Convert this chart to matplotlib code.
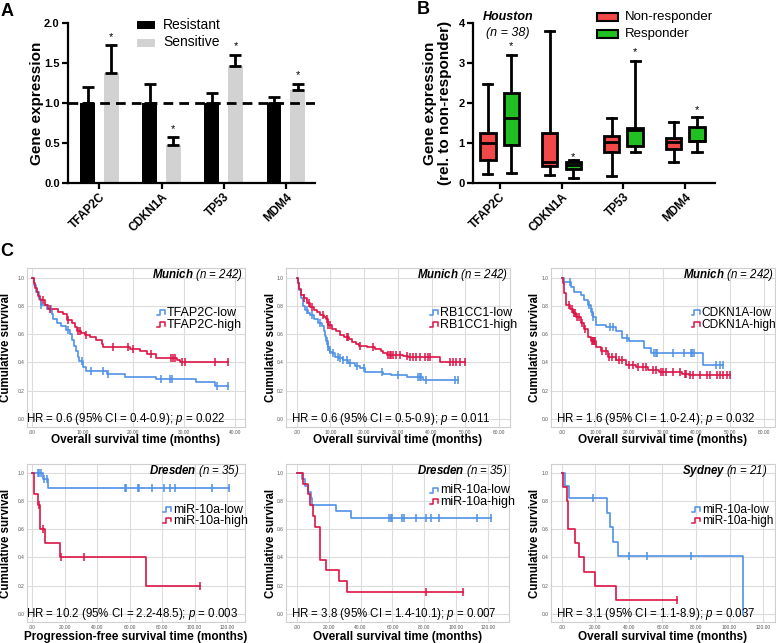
import numpy as np
import matplotlib
matplotlib.use('Agg')
import matplotlib.pyplot as plt
from matplotlib.patches import Rectangle

plt.rcParams['font.family'] = ['Liberation Sans', 'DejaVu Sans']
plt.rcParams['mathtext.fontset'] = 'custom'
plt.rcParams['mathtext.rm'] = 'Liberation Sans'
plt.rcParams['mathtext.it'] = 'Liberation Sans:italic'
plt.rcParams['mathtext.bf'] = 'Liberation Sans:italic:bold'

# ---------------- data ----------------
genes = ['TFAP2C', 'CDKN1A', 'TP53', 'MDM4']

# Panel A (mean, upper error)
a_res = [1.0, 1.0, 1.0, 1.0]
a_res_err = [0.20, 0.24, 0.13, 0.07]
a_sen = [1.38, 0.48, 1.46, 1.16]
a_sen_err = [0.34, 0.09, 0.14, 0.08]

# Panel B box stats: [whislo, q1, median, q3, whishi]
b_nonresp = [[0.22, 0.57, 1.00, 1.25, 2.48],
             [0.20, 0.43, 0.52, 1.25, 3.80],
             [0.18, 0.77, 1.02, 1.18, 1.62],
             [0.52, 0.84, 1.03, 1.13, 1.53]]
b_resp = [[0.25, 0.95, 1.62, 2.25, 3.20],
          [0.13, 0.35, 0.45, 0.53, 0.57],
          [0.77, 0.93, 1.32, 1.38, 3.05],
          [0.77, 1.04, 1.04, 1.39, 1.64]]
b_star = [3.49, 0.72, 3.34, 1.91]

# Panel C Kaplan-Meier curves: event times, survival after event, censor times
c1_low_t = [0.3, 0.8, 1.3, 1.8, 3.0, 3.9, 4.2, 5.0, 5.8, 6.6, 7.4, 7.8, 8.2, 8.6, 9.0, 9.3, 10.0, 10.7, 14.7, 18.3, 24.5, 32.4, 36.0]
c1_low_s = [0.95, 0.90, 0.85, 0.81, 0.78, 0.74, 0.71, 0.68, 0.655, 0.63, 0.60, 0.56, 0.52, 0.48, 0.44, 0.41, 0.37, 0.343, 0.32, 0.30, 0.28, 0.26, 0.235]
c1_low_c = [1.8, 3.7, 7.1, 9.8, 11.7, 14.0, 15.0, 25.5, 27.2, 27.6, 36.5, 38.6]
c1_high_t = [0.3, 0.6, 0.9, 1.2, 1.5, 2.5, 3.2, 5.1, 6.1, 6.8, 7.8, 8.4, 8.9, 9.7, 10.4, 11.4, 12.7, 13.7, 14.0, 19.3, 21.3, 22.6, 24.5, 28.5, 29.1]
c1_high_s = [0.96, 0.93, 0.90, 0.87, 0.84, 0.81, 0.78, 0.76, 0.74, 0.70, 0.68, 0.65, 0.625, 0.61, 0.595, 0.58, 0.56, 0.53, 0.51, 0.495, 0.478, 0.46, 0.43, 0.415, 0.405]
c1_high_c = [2.2, 3.5, 7.1, 9.1, 9.4, 10.7, 16.0, 19.0, 20.0, 23.5, 27.5, 27.8, 28.2, 29.5, 30.1, 36.0, 38.6]

c2_low_t = [0.3, 0.7, 1.2, 1.7, 2.5, 3.2, 4.0, 5.0, 6.4, 7.4, 8.0, 8.4, 8.8, 9.2, 9.6, 10.0, 10.4, 11.4, 12.5, 13.8, 15.3, 17.3, 18.8, 20.2, 23.2, 25.7, 28.1, 32.6, 37.5]
c2_low_s = [0.96, 0.91, 0.86, 0.80, 0.77, 0.75, 0.735, 0.71, 0.68, 0.655, 0.62, 0.585, 0.55, 0.51, 0.49, 0.475, 0.465, 0.44, 0.43, 0.42, 0.395, 0.376, 0.36, 0.336, 0.33, 0.32, 0.308, 0.296, 0.278]
c2_low_c = [3.0, 4.4, 6.9, 8.9, 9.4, 9.9, 10.9, 12.3, 12.8, 13.8, 15.0, 15.8, 17.8, 20.0, 25.2, 30.0, 36.0, 36.5, 37.0, 38.5, 47.0, 48.0]
c2_high_t = [0.3, 0.8, 1.3, 2.0, 3.0, 4.0, 5.0, 6.0, 7.0, 8.0, 8.6, 9.4, 10.4, 11.5, 12.8, 14.0, 15.5, 16.3, 17.5, 18.5, 20.7, 23.2, 25.0, 25.7, 26.7, 31.6, 33.0, 42.4]
c2_high_s = [0.96, 0.92, 0.88, 0.855, 0.82, 0.795, 0.77, 0.755, 0.735, 0.72, 0.705, 0.665, 0.64, 0.62, 0.595, 0.58, 0.565, 0.545, 0.53, 0.52, 0.51, 0.495, 0.48, 0.465, 0.455, 0.447, 0.44, 0.40]
c2_high_c = [2.0, 3.5, 4.4, 7.9, 8.9, 9.4, 9.9, 14.8, 15.3, 18.8, 22.7, 27.1, 27.6, 28.1, 28.6, 29.6, 30.6, 32.6, 33.6, 34.6, 35.5, 36.5, 38.0, 39.0, 39.5, 45.4, 46.4, 47.4, 48.4, 49.9]

c3_low_t = [0.8, 2.8, 3.75, 5.7, 6.7, 7.7, 8.7, 9.4, 10.2, 13.1, 16.1, 18.0, 20.0, 24.5, 26.5, 41.8]
c3_low_s = [0.97, 0.935, 0.90, 0.88, 0.84, 0.81, 0.76, 0.72, 0.665, 0.654, 0.62, 0.57, 0.55, 0.50, 0.465, 0.38]
c3_low_c = [2.3, 8.0, 9.0, 9.4, 14.4, 15.1, 19.5, 27.4, 27.9, 28.4, 32.9, 36.3, 38.3, 38.8, 39.3, 45.7, 46.9, 47.9]
c3_high_t = [0.3, 0.8, 1.3, 2.3, 3.3, 4.2, 5.7, 6.7, 7.7, 8.7, 10.2, 11.6, 13.6, 16.1, 19.0, 22.0, 25.5, 29.0, 32.9, 35.8, 37.8]
c3_high_s = [0.96, 0.89, 0.81, 0.78, 0.75, 0.72, 0.68, 0.64, 0.58, 0.55, 0.51, 0.478, 0.44, 0.415, 0.384, 0.37, 0.35, 0.336, 0.33, 0.32, 0.313]
c3_high_c = [2.0, 3.0, 3.5, 4.0, 4.5, 5.0, 6.0, 7.0, 9.0, 9.3, 9.6, 10.0, 12.0, 13.0, 14.0, 15.0, 16.0, 17.0, 18.0, 20.0, 21.0, 22.5, 24.0, 25.0, 27.0, 28.0, 29.5, 30.0, 31.0, 33.0, 35.0, 36.5, 37.0, 38.0, 39.0, 41.0, 43.0, 44.0, 46.0, 47.0, 48.0, 49.0, 50.0]

d1_low_t = [6.8, 9.9]
d1_low_s = [0.953, 0.89]
d1_low_c = [3.5, 4.5, 5.5, 7.5, 9.0, 57, 58, 65, 66, 74, 81, 85, 88, 111, 121]
d1_high_t = [1.2, 1.5, 3.7, 4.7, 7.8, 17.0, 70.0]
d1_high_s = [0.923, 0.846, 0.769, 0.60, 0.50, 0.40, 0.20]
d1_high_c = [4.0, 7.0, 18.0, 32.0, 103.5]

d2_low_t = [3.1, 5.2, 7.3, 8.8, 9.4, 24.7, 33.9]
d2_low_s = [0.955, 0.909, 0.864, 0.818, 0.773, 0.727, 0.682]
d2_low_c = [58, 59, 60, 66, 67, 75, 81, 84, 89, 113, 122]
d2_high_t = [4.2, 7.3, 8.4, 10.5, 11.5, 14.7, 18.4, 26.6, 31.8]
d2_high_s = [0.923, 0.846, 0.769, 0.692, 0.615, 0.385, 0.308, 0.231, 0.154]
d2_high_c = [81, 104]

s_low_t = [2.0, 4.6, 26.9, 28.5, 30.5, 33.4, 108.0]
s_low_s = [0.909, 0.818, 0.716, 0.614, 0.511, 0.409, 0.0]
s_low_c = [18.5, 40, 51, 77]
s_high_t = [0.6, 3.0, 3.6, 7.6, 10.5, 13.5, 20.0, 32.4]
s_high_s = [0.9, 0.8, 0.6, 0.5, 0.4, 0.3, 0.2, 0.1]
s_high_c = [68.5]

km_low = [(c1_low_t, c1_low_s, c1_low_c), (c2_low_t, c2_low_s, c2_low_c), (c3_low_t, c3_low_s, c3_low_c),
          (d1_low_t, d1_low_s, d1_low_c), (d2_low_t, d2_low_s, d2_low_c), (s_low_t, s_low_s, s_low_c)]
km_high = [(c1_high_t, c1_high_s, c1_high_c), (c2_high_t, c2_high_s, c2_high_c), (c3_high_t, c3_high_s, c3_high_c),
           (d1_high_t, d1_high_s, d1_high_c), (d2_high_t, d2_high_s, d2_high_c), (s_high_t, s_high_s, s_high_c)]

c_city = ['Munich', 'Munich', 'Munich', 'Dresden', 'Dresden', 'Sydney']
c_n = ['242', '242', '242', '35', '35', '21']
c_marker = ['TFAP2C', 'RB1CC1', 'CDKN1A', 'miR-10a', 'miR-10a', 'miR-10a']
c_hr = ['HR = 0.6 (95% CI = 0.4-0.9)', 'HR = 0.6 (95% CI = 0.5-0.9)', 'HR = 1.6 (95% CI = 1.0-2.4)',
        'HR = 10.2 (95% CI = 2.2-48.5)', 'HR = 3.8 (95% CI = 1.4-10.1)', 'HR = 3.1 (95% CI = 1.1-8.9)']
c_p = ['0.022', '0.011', '0.032', '0.003', '0.007', '0.037']
c_xlabel = ['Overall survival time (months)'] * 3 + ['Progression-free survival time (months)',
            'Overall survival time (months)', 'Overall survival time (months)']
c_xmax_tick = [40, 60, 60, 120, 120, 120]
c_xstep = [10, 10, 10, 20, 20, 20]

# ---------------- layout helpers ----------------
W, H = 776, 643
fig = plt.figure(figsize=(W / 100, H / 100), dpi=100)


def add_ax(l, t, r, b):
    return fig.add_axes([l / W, 1 - b / H, (r - l) / W, (b - t) / H])


def ftext(x, y, s, **kw):
    return fig.text(x / W, 1 - y / H, s, **kw)


BLUE = '#4f91e6'
RED = '#dc1446'

# ---------------- Panel A ----------------
axA = add_ax(68, 23, 315, 183)
xa = np.arange(len(genes))
off, bw = 0.19, 0.24
ekw = dict(ecolor='black', elinewidth=2, capsize=4, capthick=2)
axA.bar(xa - off, a_res, bw, color='black', yerr=[np.zeros(4), a_res_err], error_kw=ekw, zorder=2)
axA.bar(xa + off, a_sen, bw, color='#d2d2d2', yerr=[np.zeros(4), a_sen_err], error_kw=ekw, zorder=2)
axA.axhline(1.0, color='black', lw=2, ls=(0, (3.5, 2.2)), zorder=4)
for xi, v, e in zip(xa + off, a_sen, a_sen_err):
    axA.text(xi, v + e + 0.07, '*', ha='center', va='baseline', fontsize=8)
axA.set_xlim(-0.506, 3.47)
axA.set_ylim(0, 2.0)
axA.set_yticks([0, 0.5, 1.0, 1.5, 2.0])
axA.set_yticklabels(['0.0', '0.5', '1.0', '1.5', '2.0'], fontweight='bold', fontsize=8)
axA.set_xticks(xa)
axA.set_xticklabels(genes, rotation=45, ha='right', rotation_mode='anchor', fontweight='bold', fontsize=8.5)
for sp in ['top', 'right']:
    axA.spines[sp].set_visible(False)
for sp in ['left', 'bottom']:
    axA.spines[sp].set_linewidth(1.6)
axA.tick_params(width=1.6, length=4, pad=2)
ftext(36.5, 103, 'Gene expression', rotation=90, ha='center', va='center', fontsize=11, fontweight='bold')
# legend A
for yy, col, lab in [(25, 'black', 'Resistant'), (42.5, '#d2d2d2', 'Sensitive')]:
    fig.patches.append(Rectangle((137 / W, 1 - (yy + 4) / H), 18 / W, 8 / H, transform=fig.transFigure,
                                 facecolor=col, edgecolor='none'))
    ftext(163, yy, lab, ha='left', va='center', fontsize=10)

# ---------------- Panel B ----------------
axB = add_ax(473, 23, 715, 183)
stats, pos, cols = [], [], []
for i in range(4):
    for arr, o, col in [(b_nonresp, -0.19, '#f24848'), (b_resp, 0.19, '#22bf22')]:
        lo, q1, me, q3, hi = arr[i]
        stats.append(dict(whislo=lo, q1=q1, med=me, q3=q3, whishi=hi, fliers=[]))
        pos.append(i + o)
        cols.append(col)
bp = axB.bxp(stats, positions=pos, widths=0.25, patch_artist=True, showfliers=False,
             boxprops=dict(linewidth=2, edgecolor='black'), whiskerprops=dict(linewidth=2),
             capprops=dict(linewidth=2), medianprops=dict(color='black', linewidth=2), capwidths=0.15)
for b, c in zip(bp['boxes'], cols):
    b.set_facecolor(c)
for i, sy in enumerate(b_star):
    axB.text(i + 0.19, sy - 0.15, '*', ha='center', va='baseline', fontsize=8)
axB.set_xlim(-0.43, 3.48)
axB.set_ylim(0, 4)
axB.set_yticks([0, 1, 2, 3, 4])
axB.set_yticklabels(['0', '1', '2', '3', '4'], fontweight='bold', fontsize=8)
axB.set_xticks(np.arange(4))
axB.set_xticklabels(genes, rotation=45, ha='right', rotation_mode='anchor', fontweight='bold', fontsize=8.5)
for sp in ['top', 'right']:
    axB.spines[sp].set_visible(False)
for sp in ['left', 'bottom']:
    axB.spines[sp].set_linewidth(1.6)
axB.tick_params(width=1.6, length=4, pad=2)
ftext(437.5, 103, 'Gene expression\n(rel. to non-responder)', rotation=90, ha='center', va='center',
      fontsize=11, fontweight='bold', multialignment='center', linespacing=1.15)
ftext(508, 17, 'Houston', ha='center', va='center', fontsize=9, fontweight='bold', style='italic')
ftext(508, 33, '(n = 38)', ha='center', va='center', fontsize=9, style='italic')
for yy, col, lab in [(17, '#f24848', 'Non-responder'), (34, '#22bf22', 'Responder')]:
    fig.patches.append(Rectangle((597 / W, 1 - (yy + 4) / H), 21 / W, 8 / H, transform=fig.transFigure,
                                 facecolor=col, edgecolor='black', linewidth=1.5))
    ftext(625, yy, lab, ha='left', va='center', fontsize=9.5)

# ---------------- Panel labels ----------------
ftext(7, 11, 'A', ha='center', va='center', fontsize=13, fontweight='bold')
ftext(423, 9, 'B', ha='center', va='center', fontsize=13, fontweight='bold')
ftext(7, 252, 'C', ha='center', va='center', fontsize=13, fontweight='bold')

# ---------------- Panel C ----------------
c_boxes = [(27, 268, 245, 427), (286, 268, 510, 427), (551, 268, 775, 427),
           (27, 464, 245, 622), (286, 464, 509, 622), (551, 464, 775, 622)]
c_xlim = [(-1.0, 42.0), (-3.2, 63.3), (-3.2, 63.3), (-3.1, 131.0), (-6.7, 133.0), (-6.4, 127.0)]
c_ylim = [(-0.057, 1.069)] * 3 + [(-0.057, 1.062)] * 3
leg_x = [0.641, 0.6875, 0.672, 0.67, 0.69, 0.676]
leg_y = [(0.717, 0.642), (0.717, 0.642), (0.717, 0.642), (0.709, 0.641), (0.835, 0.761), (0.709, 0.641)]
leg_fs = [9, 9, 8.6, 9, 9, 8.6]
title_inset = [2, 2, 1, 6, 2, 8]
hr_inset = [-1, 5, 5, -1, 5, 5]
ylab_x = [6, 271, 535, 6, 271, 535]


def km(ax, t, s, c, color):
    xs = np.concatenate([[0.0], t])
    ys = np.concatenate([[1.0], s])
    end = max(xs[-1], max(c) if len(c) else 0)
    xe = np.append(xs, end)
    ye = np.append(ys, ys[-1])
    ax.step(xe, ye, where='post', color=color, lw=1.2, zorder=3)
    idx = np.searchsorted(xs, c, side='right') - 1
    ax.plot(c, ys[idx], ls='none', marker='|', ms=6, mew=1.1, color=color, zorder=4)


for k in range(6):
    l, t, r, b = c_boxes[k]
    ax = add_ax(l, t, r, b)
    wpx, hpx = r - l, b - t
    km(ax, *km_low[k], BLUE)
    km(ax, *km_high[k], RED)
    ax.set_xlim(*c_xlim[k])
    ax.set_ylim(*c_ylim[k])
    xt = np.arange(0, c_xmax_tick[k] + 1, c_xstep[k])
    ax.set_xticks(xt)
    ax.set_xticklabels(['.00' if v == 0 else '%d.00' % v for v in xt])
    ax.set_yticks([0, 0.2, 0.4, 0.6, 0.8, 1.0])
    ax.set_yticklabels(['0.0', '0.2', '0.4', '0.6', '0.8', '1.0'])
    ax.tick_params(length=0, labelsize=3.5, labelcolor='#555555', pad=2)
    ax.grid(True, color='#dcdcdc', lw=0.8, zorder=0)
    ax.set_axisbelow(True)
    for sp in ax.spines.values():
        sp.set_color('#cfcfcf')
        sp.set_linewidth(0.8)
    # title
    ax.text(1 - title_inset[k] / wpx, (b - (t + 7)) / hpx,
            r'$\mathbf{%s}$ (n = %s)' % (c_city[k], c_n[k]),
            transform=ax.transAxes, ha='right', va='center', fontsize=8.3, style='italic')
    # legend
    lx = leg_x[k]
    for yy, col, lab in [(leg_y[k][0], BLUE, c_marker[k] + '-low'), (leg_y[k][1], RED, c_marker[k] + '-high')]:
        x0 = lx - 10 / wpx
        x1 = lx - 2 / wpx
        dy = 2.5 / hpx
        ax.plot([x0, x0 + 0.35 * (x1 - x0), x0 + 0.35 * (x1 - x0), x1, x1],
                [yy - dy, yy - dy, yy + dy, yy + dy, yy - 0.3 * dy],
                transform=ax.transAxes, color=col, lw=1.1, clip_on=False)
        ax.text(lx, yy, lab, transform=ax.transAxes, ha='left', va='center', fontsize=leg_fs[k])
    # HR text
    ax.text(hr_inset[k] / wpx, 0.0, c_hr[k] + '; $p$ = ' + c_p[k],
            transform=ax.get_yaxis_transform(), ha='left', va='center', fontsize=8.3)
    # axis labels
    ftext((l + r) / 2, b + (13 if k < 3 else 15), c_xlabel[k], ha='center', va='center',
          fontsize=8.5, fontweight='bold')
    ftext(ylab_x[k], (t + b) / 2, 'Cumulative survival', rotation=90, ha='center', va='center',
          fontsize=8.3, fontweight='bold')

fig.savefig('out.png', dpi=100)
